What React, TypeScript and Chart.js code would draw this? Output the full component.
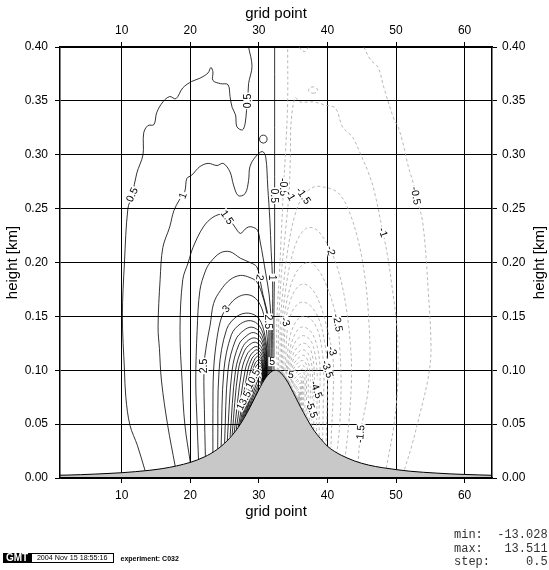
import React, { useEffect, useRef } from "react";
import { Chart, registerables } from "chart.js";

Chart.register(...registerables);

type Pt = [number, number];

const FONT = '"Liberation Sans", Arial, Helvetica, sans-serif';

const xRange = [1, 64];
const yRange = [0, 0.4];
const xTickValues = [10, 20, 30, 40, 50, 60];
const yTickValues = [0, 0.05, 0.1, 0.15, 0.2, 0.25, 0.3, 0.35, 0.4];

// terrain (mountain) profile
const terrainX = [1, 2, 4, 6, 8, 10, 12, 14, 16, 18, 20, 21, 22, 23, 24, 25, 26, 27, 28, 29, 30, 31, 32, 32.4, 33, 34, 35, 36, 37, 38, 39, 40, 41, 42, 44, 46, 48, 50, 52, 54, 56, 58, 60, 62, 64];
const terrainH = [0.0026, 0.0027, 0.0031, 0.0036, 0.0042, 0.0049, 0.0059, 0.0071, 0.0088, 0.0112, 0.0145, 0.0167, 0.0194, 0.0227, 0.0269, 0.0322, 0.0388, 0.0471, 0.0573, 0.0692, 0.0819, 0.093, 0.0994, 0.1, 0.0986, 0.091, 0.0794, 0.0668, 0.0551, 0.0445, 0.0365, 0.0295, 0.0248, 0.0212, 0.0157, 0.012, 0.0096, 0.0078, 0.0063, 0.0053, 0.0045, 0.0038, 0.0033, 0.0029, 0.0025];

// positive contours (solid)
const pos05West: Pt[] = [[13.4,0.007],[12.3,0.03],[11.2,0.049],[10.6,0.075],[10.4,0.1],[10.1,0.15],[10.4,0.2],[10.9,0.25],[11.5,0.262],[12.2,0.283],[13.1,0.3],[13.2,0.32],[13.8,0.327],[14.7,0.328],[15.1,0.339],[16.0,0.349],[17.0,0.354],[17.9,0.352],[18.9,0.362],[20.2,0.368],[21.4,0.371],[22.6,0.376],[23.0,0.381],[23.3,0.377],[23.3,0.369],[24.4,0.366],[25.5,0.365],[25.8,0.354],[26.1,0.344],[26.6,0.337],[26.8,0.326],[27.6,0.323],[28.0,0.329],[28.2,0.341],[28.4,0.352],[28.5,0.366],[29.0,0.382],[28.5,0.4]];
const pos05East: Pt[] = [[32.3,0.4],[32.3,0.3],[32.3,0.22],[32.25,0.18],[32.2,0.15],[32.2,0.12],[32.2,0.0998]];
const pos05Loop: Pt[] = [[30.65,0.3108],[31.05,0.3118],[31.2,0.3145],[31.05,0.3172],[30.65,0.3182],[30.25,0.3172],[30.1,0.3145],[30.25,0.3118],[30.65,0.3108]];
const pos10: Pt[] = [[17.8,0.011],[16.7,0.049],[15.8,0.09],[15.5,0.12],[15.3,0.14],[15.6,0.184],[16.0,0.214],[17.0,0.233],[17.6,0.248],[18.4,0.258],[19.2,0.266],[19.5,0.278],[20.2,0.281],[21.4,0.289],[22.6,0.292],[23.9,0.29],[24.8,0.292],[25.8,0.284],[26.3,0.272],[27.0,0.262],[28.0,0.264],[28.5,0.276],[28.7,0.289],[29.5,0.298],[30.5,0.303],[31.0,0.298],[31.3,0.27],[31.6,0.24],[31.8,0.21],[32.0,0.183],[32.0,0.15],[31.95,0.12],[31.9,0.099]];
const pos15: Pt[] = [[20.0,0.0145],[19.2,0.05],[18.8,0.09],[18.5,0.137],[18.9,0.184],[19.7,0.2],[20.4,0.214],[21.9,0.233],[23.3,0.242],[24.8,0.245],[25.6,0.241],[26.5,0.233],[27.3,0.227],[28.0,0.231],[28.5,0.233],[29.0,0.233],[29.8,0.23],[30.2,0.219],[30.6,0.205],[31.0,0.19],[31.5,0.17],[31.8,0.145],[31.8,0.12],[31.75,0.098]];
const pos20: Pt[] = [[21.2,0.0175],[21.0,0.05],[20.8,0.09],[21.0,0.137],[21.4,0.174],[22.2,0.192],[22.9,0.2],[24.4,0.209],[25.8,0.21],[27.3,0.204],[28.7,0.2],[29.7,0.196],[30.2,0.183],[30.6,0.17],[31.2,0.155],[31.6,0.14],[31.6,0.12],[31.6,0.097]];
const pos25: Pt[] = [[22.2,0.0205],[22.1,0.05],[22.0,0.103],[22.4,0.125],[22.9,0.142],[23.4,0.162],[24.4,0.174],[25.8,0.184],[27.3,0.188],[28.7,0.186],[29.7,0.182],[30.4,0.172],[31.0,0.158],[31.4,0.143],[31.45,0.12],[31.45,0.096]];
const pos30: Pt[] = [[23.3,0.0227],[23.3,0.06],[23.4,0.1],[23.9,0.13],[24.6,0.15],[25.4,0.158],[26.5,0.166],[27.8,0.17],[29.0,0.169],[30.0,0.163],[30.7,0.152],[31.1,0.138],[31.3,0.12],[31.3,0.095]];
const pos35: Pt[] = [[24.0,0.027],[24.2,0.1],[25.3,0.138],[26.8,0.15],[28.5,0.153],[30.0,0.148],[30.9,0.132],[31.2,0.113],[31.2,0.094]];
const pos40: Pt[] = [[24.5,0.0295],[24.9,0.1],[26.0,0.133],[27.3,0.143],[28.8,0.146],[30.1,0.141],[30.9,0.127],[31.15,0.11],[31.15,0.094]];
const pos45: Pt[] = [[25.0,0.032],[25.5,0.1],[26.6,0.128],[27.8,0.137],[29.0,0.14],[30.2,0.135],[30.9,0.122],[31.1,0.108],[31.1,0.094]];
const pos50: Pt[] = [[25.4,0.035],[26.1,0.1],[27.1,0.124],[28.2,0.132],[29.2,0.135],[30.2,0.131],[30.85,0.119],[31.05,0.106],[31.05,0.093]];
const pos55: Pt[] = [[25.8,0.038],[26.6,0.1],[27.6,0.121],[28.5,0.128],[29.4,0.13],[30.3,0.126],[30.8,0.116],[31.0,0.104],[31.0,0.093]];
const pos60: Pt[] = [[26.1,0.04],[27.0,0.1],[27.9,0.118],[28.7,0.124],[29.5,0.126],[30.3,0.122],[30.8,0.113],[30.95,0.102],[30.95,0.092]];
const pos65: Pt[] = [[26.4,0.042],[27.5,0.1],[28.3,0.115],[29.0,0.12],[29.6,0.122],[30.3,0.119],[30.75,0.111],[30.9,0.1],[30.9,0.092]];
const pos70: Pt[] = [[26.7,0.045],[28.0,0.1],[28.7,0.113],[29.2,0.117],[29.7,0.119],[30.3,0.116],[30.7,0.108],[30.85,0.099],[30.85,0.092]];
const pos75: Pt[] = [[27.0,0.047],[28.4,0.1],[29.0,0.111],[29.4,0.114],[29.8,0.116],[30.3,0.113],[30.65,0.106],[30.8,0.098],[30.8,0.091]];
const pos80: Pt[] = [[27.2,0.049],[28.8,0.1],[29.3,0.109],[29.6,0.112],[29.9,0.113],[30.35,0.11],[30.6,0.104],[30.75,0.097],[30.75,0.091]];
const pos85: Pt[] = [[27.4,0.051],[29.1,0.1],[29.5,0.107],[29.8,0.109],[30.0,0.11],[30.35,0.108],[30.55,0.103],[30.7,0.096],[30.7,0.09]];
const pos90: Pt[] = [[27.6,0.053],[29.1,0.095],[29.6,0.104],[29.9,0.106],[30.1,0.107],[30.4,0.105],[30.55,0.1],[30.65,0.094],[30.65,0.09]];
const pos95: Pt[] = [[27.8,0.055],[29.1,0.09],[29.6,0.099],[30.0,0.103],[30.2,0.104],[30.45,0.102],[30.6,0.097],[30.6,0.09]];
const pos100: Pt[] = [[28.0,0.057],[29.2,0.088],[29.7,0.097],[30.0,0.1],[30.2,0.101],[30.45,0.099],[30.55,0.094],[30.55,0.089]];
const pos105: Pt[] = [[28.2,0.06],[29.2,0.084],[29.8,0.094],[30.1,0.097],[30.3,0.098],[30.5,0.094],[30.5,0.089]];
const pos110: Pt[] = [[28.4,0.062],[29.3,0.081],[29.8,0.09],[30.1,0.094],[30.35,0.092],[30.4,0.087]];
const pos115: Pt[] = [[28.6,0.064],[29.4,0.079],[29.9,0.087],[30.15,0.09],[30.3,0.087],[30.3,0.086]];
const pos120: Pt[] = [[28.8,0.066],[29.5,0.077],[29.9,0.084],[30.1,0.086],[30.2,0.085]];
const pos125: Pt[] = [[29.0,0.068],[29.6,0.076],[29.9,0.081],[30.05,0.082]];
const pos130: Pt[] = [[29.2,0.071],[29.6,0.076],[29.85,0.079],[29.95,0.08]];
const pos135: Pt[] = [[29.4,0.0735],[29.65,0.077],[29.8,0.079]];

// negative contours (dashed)
const neg05West: Pt[] = [[32.7,0.0995],[32.6,0.12],[32.65,0.15],[33.0,0.19],[33.3,0.23],[33.6,0.27],[33.95,0.31],[34.2,0.35],[34.2,0.4]];
const neg05East: Pt[] = [[45.3,0.4],[46.3,0.388],[47.4,0.381],[48.2,0.363],[49.7,0.333],[50.3,0.326],[51.0,0.311],[51.8,0.289],[52.5,0.274],[52.9,0.262],[53.9,0.237],[54.7,0.174],[55.1,0.119],[54.7,0.093],[53.5,0.06],[52.3,0.03],[51.2,0.007]];
const neg10: Pt[] = [[32.9,0.099],[32.85,0.12],[32.9,0.145],[33.3,0.19],[33.9,0.23],[34.4,0.265],[34.6,0.3],[34.7,0.33],[35.3,0.353],[36.0,0.349],[38.0,0.349],[39.7,0.346],[41.2,0.343],[42.2,0.326],[43.7,0.316],[44.6,0.304],[46.0,0.283],[46.8,0.267],[48.1,0.228],[48.8,0.205],[49.5,0.174],[50.1,0.143],[50.3,0.112],[50.2,0.08],[49.6,0.045],[48.9,0.02],[48.6,0.0094]];
const neg10TopDip: Pt[] = [[35.9,0.4],[36.3,0.3965],[36.8,0.396],[37.2,0.4]];
const neg10Loop: Pt[] = [[37.9,0.357],[38.4,0.358],[38.55,0.36],[38.4,0.362],[37.9,0.363],[37.4,0.362],[37.25,0.36],[37.4,0.358],[37.9,0.357]];
const neg15: Pt[] = [[33.1,0.097],[33.1,0.12],[33.15,0.145],[33.6,0.18],[34.3,0.215],[35.3,0.245],[36.5,0.262],[38.0,0.27],[39.5,0.27],[41.5,0.265],[43.0,0.25],[44.5,0.22],[45.5,0.185],[46.0,0.15],[46.2,0.115],[45.9,0.08],[44.8,0.041],[44.5,0.015]];
const neg20: Pt[] = [[33.3,0.0965],[33.3,0.12],[33.4,0.145],[33.8,0.17],[34.6,0.2],[35.7,0.222],[37.0,0.232],[38.3,0.231],[39.5,0.222],[40.5,0.211],[41.7,0.19],[42.7,0.16],[43.4,0.12],[43.5,0.09],[43.1,0.05],[42.6,0.02]];
const neg25: Pt[] = [[33.45,0.096],[33.5,0.12],[33.65,0.145],[34.1,0.165],[35.0,0.185],[36.2,0.197],[37.5,0.2],[38.8,0.192],[40.1,0.175],[41.0,0.157],[41.5,0.144],[41.8,0.12],[42.0,0.09],[41.8,0.05],[41.4,0.024]];
const neg30: Pt[] = [[33.6,0.095],[33.7,0.12],[33.9,0.145],[34.6,0.165],[35.6,0.177],[36.6,0.18],[37.8,0.175],[39.0,0.16],[40.1,0.135],[40.7,0.117],[40.9,0.1],[40.8,0.07],[40.6,0.045],[40.5,0.028]];
const neg35: Pt[] = [[33.75,0.094],[33.9,0.11],[34.2,0.14],[34.9,0.155],[35.8,0.162],[36.7,0.163],[37.8,0.158],[38.9,0.145],[39.7,0.122],[40.0,0.103],[40.0,0.08],[39.9,0.055],[39.8,0.032]];
const neg40: Pt[] = [[33.9,0.092],[34.1,0.11],[34.5,0.13],[35.2,0.143],[36.0,0.149],[36.8,0.15],[37.8,0.146],[38.7,0.135],[39.3,0.115],[39.5,0.095],[39.4,0.07],[39.3,0.035]];
const neg45: Pt[] = [[34.0,0.091],[34.2,0.105],[34.7,0.124],[35.4,0.135],[36.2,0.14],[37.0,0.139],[37.8,0.134],[38.5,0.122],[38.9,0.105],[38.9,0.085],[38.8,0.065],[38.8,0.039]];
const neg50: Pt[] = [[34.1,0.09],[34.3,0.103],[34.8,0.119],[35.5,0.128],[36.3,0.132],[37.0,0.131],[37.7,0.126],[38.2,0.115],[38.5,0.098],[38.5,0.08],[38.4,0.042]];
const neg55: Pt[] = [[34.2,0.089],[34.45,0.102],[35.0,0.115],[35.7,0.122],[36.4,0.125],[37.0,0.124],[37.6,0.118],[38.0,0.106],[38.1,0.09],[38.0,0.07],[38.0,0.045]];
const neg60: Pt[] = [[34.3,0.088],[34.55,0.1],[35.1,0.111],[35.8,0.117],[36.4,0.119],[37.0,0.117],[37.5,0.111],[37.8,0.1],[37.8,0.08],[37.7,0.048]];
const neg65: Pt[] = [[34.4,0.087],[34.7,0.099],[35.2,0.107],[35.9,0.112],[36.4,0.114],[36.9,0.112],[37.3,0.105],[37.5,0.094],[37.5,0.075],[37.4,0.051]];
const neg70: Pt[] = [[34.5,0.086],[34.8,0.097],[35.3,0.104],[35.9,0.108],[36.4,0.109],[36.8,0.107],[37.1,0.1],[37.2,0.088],[37.15,0.054]];
const neg75: Pt[] = [[34.6,0.084],[34.9,0.095],[35.4,0.101],[36.0,0.104],[36.4,0.105],[36.7,0.102],[36.9,0.095],[36.95,0.08],[36.9,0.057]];
const neg80: Pt[] = [[34.7,0.083],[35.0,0.093],[35.5,0.098],[36.0,0.1],[36.4,0.101],[36.6,0.097],[36.75,0.088],[36.7,0.06]];
const neg85: Pt[] = [[34.8,0.082],[35.1,0.091],[35.6,0.095],[36.1,0.097],[36.4,0.094],[36.55,0.085],[36.5,0.061]];
const neg90: Pt[] = [[34.9,0.08],[35.2,0.088],[35.7,0.092],[36.1,0.094],[36.3,0.09],[36.4,0.078],[36.35,0.063]];
const neg95: Pt[] = [[35.0,0.079],[35.3,0.086],[35.75,0.09],[36.1,0.091],[36.25,0.085],[36.2,0.065]];
const neg100: Pt[] = [[35.1,0.078],[35.4,0.084],[35.8,0.087],[36.05,0.088],[36.15,0.08],[36.1,0.066]];
const neg105: Pt[] = [[35.2,0.077],[35.45,0.082],[35.8,0.085],[36.0,0.085],[36.05,0.075],[36.0,0.067]];
const neg110: Pt[] = [[35.3,0.0756],[35.5,0.08],[35.8,0.082],[35.95,0.08],[35.95,0.068]];
const neg115: Pt[] = [[35.4,0.074],[35.6,0.078],[35.8,0.08],[35.9,0.077],[35.9,0.069]];
const neg120: Pt[] = [[35.5,0.073],[35.65,0.076],[35.8,0.078],[35.85,0.07]];
const neg125: Pt[] = [[35.6,0.072],[35.7,0.075],[35.8,0.076],[35.8,0.071]];
const neg130: Pt[] = [[35.65,0.0715],[35.72,0.074],[35.78,0.0715]];

const positiveContours: Pt[][] = [pos05West, pos05East, pos05Loop, pos10, pos15, pos20, pos25, pos30, pos35, pos40, pos45, pos50, pos55, pos60, pos65, pos70, pos75, pos80, pos85, pos90, pos95, pos100, pos105, pos110, pos115, pos120, pos125, pos130, pos135];
const negativeContours: Pt[][] = [neg05West, neg05East, neg10, neg10TopDip, neg10Loop, neg15, neg20, neg25, neg30, neg35, neg40, neg45, neg50, neg55, neg60, neg65, neg70, neg75, neg80, neg85, neg90, neg95, neg100, neg105, neg110, neg115, neg120, neg125, neg130];

// contour labels
const labelText = ["0.5", "0.5", "0.5", "1", "1", "1.5", "2", "2.5", "2.5", "3", "13.5", "10.5", "5", "5", "-0.5", "-1", "-1.5", "-0.5", "-1", "-2", "-2.5", "-3", "-3.5", "-3", "-4.5", "-5.5", "-1.5"];
const labelX = [11.5, 28.4, 32.3, 18.9, 32.0, 25.4, 30.15, 22.0, 31.4, 25.2, 27.8, 29.1, 31.95, 34.7, 33.6, 34.6, 36.5, 52.9, 48.1, 40.5, 41.5, 40.7, 40.0, 33.9, 38.4, 37.7, 44.8];
const labelY = [0.263, 0.35, 0.262, 0.262, 0.186, 0.242, 0.186, 0.104, 0.145, 0.157, 0.072, 0.092, 0.108, 0.096, 0.27, 0.262, 0.262, 0.262, 0.228, 0.211, 0.144, 0.118, 0.101, 0.145, 0.082, 0.064, 0.041];
const labelAngle = [-65, -90, 90, -70, 90, 55, 100, -90, 90, -50, -62, -62, 0, 10, 90, 60, 55, 80, 70, 75, 80, 70, 72, 70, 70, 70, -85];

const toXY = (pts: Pt[]) => pts.map(([x, y]) => ({ x, y }));

const labelPlugin = {
  id: "contourLabels",
  afterDatasetsDraw(chart: any) {
    const ctx = chart.ctx;
    const xs = chart.scales.x;
    const ys = chart.scales.y;
    const a = chart.chartArea;
    ctx.save();
    ctx.beginPath();
    ctx.rect(a.left, a.top, a.right - a.left, a.bottom - a.top);
    ctx.clip();
    ctx.font = `10.5px ${FONT}`;
    ctx.textAlign = "center";
    ctx.textBaseline = "middle";
    for (let i = 0; i < labelText.length; i++) {
      const px = xs.getPixelForValue(labelX[i]);
      const py = ys.getPixelForValue(labelY[i]);
      ctx.save();
      ctx.translate(px, py);
      ctx.rotate((labelAngle[i] * Math.PI) / 180);
      const w = ctx.measureText(labelText[i]).width;
      ctx.fillStyle = "#fff";
      ctx.fillRect(-w / 2 - 1, -4.5, w + 2, 9);
      ctx.fillStyle = "#000";
      ctx.fillText(labelText[i], 0, 0.5);
      ctx.restore();
    }
    ctx.restore();
  },
  afterDraw(chart: any) {
    const ctx = chart.ctx;
    const a = chart.chartArea;
    ctx.save();
    ctx.translate(539.5, (a.top + a.bottom) / 2);
    ctx.rotate(-Math.PI / 2);
    ctx.font = `15px ${FONT}`;
    ctx.fillStyle = "#000";
    ctx.textAlign = "center";
    ctx.textBaseline = "middle";
    ctx.fillText("height [km]", 0, 0);
    ctx.restore();
  },
};

export default function App() {
  const ref = useRef<HTMLCanvasElement>(null);
  useEffect(() => {
    if (!ref.current) return;
    Chart.defaults.font.family = FONT;
    const datasets: any[] = [];
    datasets.push({
      data: terrainX.map((x, i) => ({ x, y: terrainH[i] })),
      borderColor: "#000",
      borderWidth: 1,
      backgroundColor: "#c8c8c8",
      fill: "origin",
      pointRadius: 0,
      cubicInterpolationMode: "monotone",
    });
    positiveContours.forEach((c) =>
      datasets.push({ data: toXY(c), borderColor: "#000", borderWidth: 0.8, pointRadius: 0, tension: 0.35, fill: false })
    );
    negativeContours.forEach((c) =>
      datasets.push({ data: toXY(c), borderColor: "#a6a6a6", borderWidth: 0.8, borderDash: [3, 2.5], pointRadius: 0, tension: 0.35, fill: false })
    );
    const gridBase = { color: "#000", lineWidth: 1, tickLength: 5, drawTicks: true, tickColor: "#000" };
    const border = { display: true, color: "#000", width: 1.5, z: 1 };
    const xTicksCb = (s: any) => { s.ticks = xTickValues.map((v) => ({ value: v })); };
    const yTicksCb = (s: any) => { s.ticks = yTickValues.map((v) => ({ value: v })); };
    const chart = new Chart(ref.current, {
      type: "line",
      data: { datasets },
      plugins: [labelPlugin],
      options: {
        responsive: false,
        animation: false,
        events: [],
        layout: { padding: { left: 0, right: 0, top: 0, bottom: 45 } },
        plugins: { legend: { display: false }, tooltip: { enabled: false } },
        scales: {
          x: {
            type: "linear", position: "bottom", min: xRange[0], max: xRange[1],
            afterBuildTicks: xTicksCb, afterFit: (s: any) => { s.height = 47; },
            grid: { ...gridBase }, border,
            ticks: { color: "#000", font: { size: 12 }, padding: 5, maxRotation: 0, autoSkip: false, callback: (v: any) => String(v) },
            title: { display: true, text: "grid point", color: "#000", font: { size: 15 }, padding: { top: 0, bottom: 4 } },
          },
          x2: {
            type: "linear", position: "top", min: xRange[0], max: xRange[1],
            afterBuildTicks: xTicksCb, afterFit: (s: any) => { s.height = 47; },
            grid: { ...gridBase, drawOnChartArea: false }, border,
            ticks: { color: "#000", font: { size: 12 }, padding: 4, maxRotation: 0, autoSkip: false, callback: (v: any) => String(v) },
            title: { display: true, text: "grid point", color: "#000", font: { size: 15 }, padding: { top: 5, bottom: 0 } },
          },
          y: {
            type: "linear", position: "left", min: yRange[0], max: yRange[1],
            afterBuildTicks: yTicksCb, afterFit: (s: any) => { s.width = 60; },
            grid: { ...gridBase }, border,
            ticks: { color: "#000", font: { size: 12 }, padding: 7, autoSkip: false, callback: (v: any) => Number(v).toFixed(2) },
            title: { display: true, text: "height [km]", color: "#000", font: { size: 15 }, padding: { top: 4, bottom: 0 } },
          },
          y2: {
            type: "linear", position: "right", min: yRange[0], max: yRange[1],
            afterBuildTicks: yTicksCb, afterFit: (s: any) => { s.width = 57; },
            grid: { ...gridBase, drawOnChartArea: false }, border,
            ticks: { color: "#000", font: { size: 12 }, padding: 5, autoSkip: false, callback: (v: any) => Number(v).toFixed(2) },
          },
        },
      } as any,
    });
    return () => chart.destroy();
  }, []);

  const mono = '"Liberation Mono", "Courier New", monospace';
  return (
    <div style={{ position: "fixed", left: 0, top: 0, width: 549, height: 570, background: "#fff", overflow: "hidden" }}>
      <canvas ref={ref} width={549} height={570} style={{ display: "block" }} />
      <div style={{ position: "absolute", left: 3, top: 552.7, width: 28, height: 10.6, background: "#000", color: "#fff", font: `bold 10px ${FONT}`, lineHeight: "10.6px", textAlign: "center" }}>GMT</div>
      <div style={{ position: "absolute", left: 30.5, top: 552.7, width: 83.5, height: 10.6, boxSizing: "border-box", border: "1px solid #000", background: "#fff", color: "#000", font: `7.2px ${FONT}`, lineHeight: "8.6px", textAlign: "center", whiteSpace: "nowrap" }}>2004 Nov 15 18:55:16</div>
      <div style={{ position: "absolute", left: 120.5, top: 553.5, color: "#000", font: `bold 7px ${FONT}`, lineHeight: "9px", whiteSpace: "nowrap" }}>experiment: C032</div>
      <div style={{ position: "absolute", left: 454, top: 529.3, color: "#333", font: `12px ${mono}`, lineHeight: "13.5px", whiteSpace: "pre" }}>
        {"min:  -13.028\nmax:   13.511\nstep:     0.5"}
      </div>
    </div>
  );
}
